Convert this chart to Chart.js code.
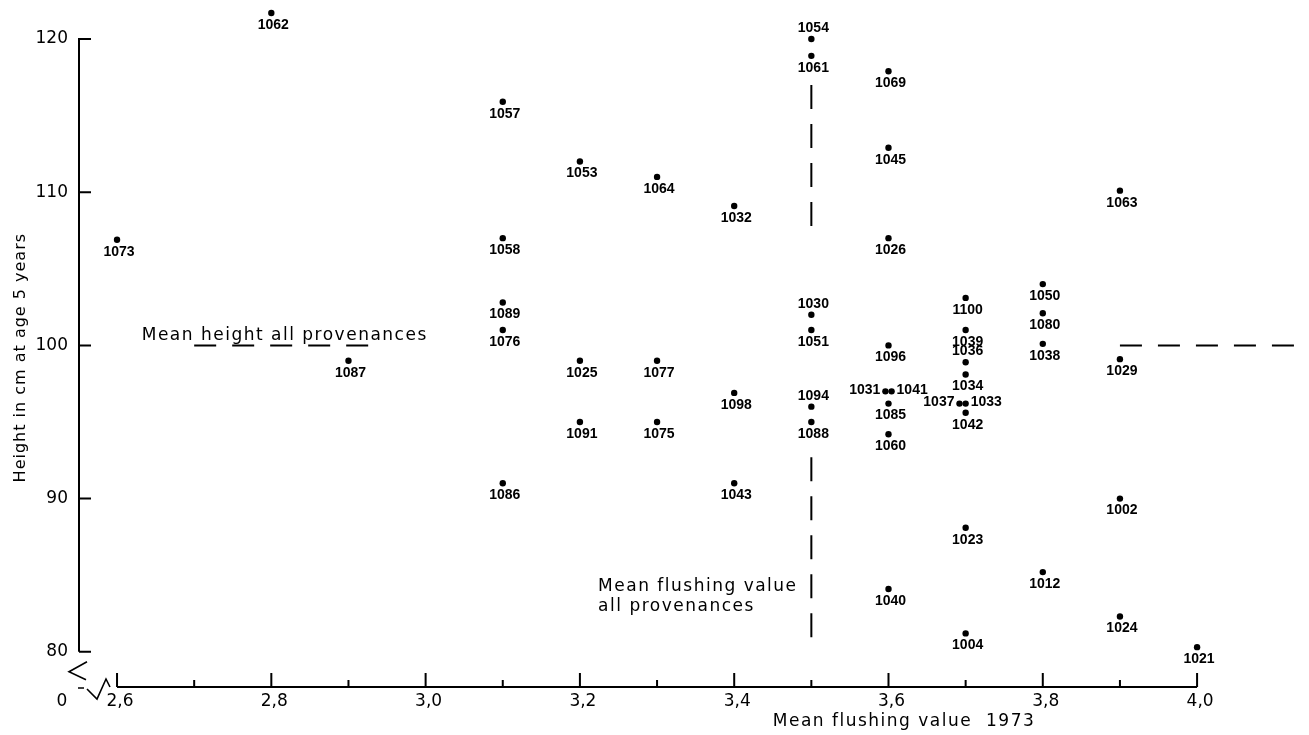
<!DOCTYPE html>
<html>
<head>
<meta charset="utf-8">
<script src="https://cdn.jsdelivr.net/npm/chart.js@4.4.1/dist/chart.umd.min.js"></script>
<style>
html, body { margin: 0; padding: 0; background: #fff; }
#wrap { width: 1309px; height: 735px; }
</style>
</head>
<body>
<div id="wrap"><canvas id="scatter01" width="1309" height="735"></canvas></div>
<script>
// provenance numbers, mean flushing value 1973, height (cm) at age 5
const provenances = [
    '1062', '1073', '1087',
    '1057', '1058', '1089', '1076', '1086',
    '1053', '1025', '1091',
    '1064', '1077', '1075',
    '1032', '1098', '1043',
    '1054', '1061', '1030', '1051', '1094', '1088',
    '1069', '1045', '1026', '1096', '1031', '1041', '1085', '1060', '1040',
    '1100', '1039', '1036', '1034', '1037', '1033', '1042', '1023', '1004',
    '1050', '1080', '1038', '1012',
    '1063', '1029', '1002', '1024',
    '1021',
];
const flushing = [
    2.8, 2.6, 2.9,
    3.1, 3.1, 3.1, 3.1, 3.1,
    3.2, 3.2, 3.2,
    3.3, 3.3, 3.3,
    3.4, 3.4, 3.4,
    3.5, 3.5, 3.5, 3.5, 3.5, 3.5,
    3.6, 3.6, 3.6, 3.6, 3.596, 3.604, 3.6, 3.6, 3.6,
    3.7, 3.7, 3.7, 3.7, 3.692, 3.7, 3.7, 3.7, 3.7,
    3.8, 3.8, 3.8, 3.8,
    3.9, 3.9, 3.9, 3.9,
    4.0,
];
const heights = [
    121.7, 106.9, 99.0,
    115.9, 107.0, 102.8, 101.0, 91.0,
    112.0, 99.0, 95.0,
    111.0, 99.0, 95.0,
    109.1, 96.9, 91.0,
    120.0, 118.9, 102.0, 101.0, 96.0, 95.0,
    117.9, 112.9, 107.0, 100.0, 97.0, 97.0, 96.2, 94.2, 84.1,
    103.1, 101.0, 98.9, 98.1, 96.2, 96.2, 95.6, 88.1, 81.2,
    104.0, 102.1, 100.1, 85.2,
    110.1, 99.1, 90.0, 82.3,
    80.3,
];

const xTicks = [2.6, 2.7, 2.8, 2.9, 3.0, 3.1, 3.2, 3.3, 3.4, 3.5, 3.6, 3.7, 3.8, 3.9, 4.0];
const xTickLabels = ['2,6', '', '2,8', '', '3,0', '', '3,2', '', '3,4', '', '3,6', '', '3,8', '', '4,0'];
const yTicks = [80, 90, 100, 110, 120];
const yTickLabels = ['80', '90', '100', '110', '120'];

const meanFlushing = 3.5;
const meanHeight = 100;
// drawn stretches of the two dashed mean lines
const meanHeightSpans = [[2.70, 2.94], [3.90, 4.136]];
const meanFlushingSpans = [[117.0, 107.4], [92.7, 80.3]];

// label placement (default: under the dot)
const labelAbove = ['1054', '1030', '1094', '1036'];
const labelLeft = ['1031', '1037'];
const labelRight = ['1041', '1033'];

const FONT = 'DejaVu Sans';

const points = provenances.map((p, i) => ({ x: flushing[i], y: heights[i], id: p }));

const datasets = [
    {
        label: 'Provenances',
        data: points,
        backgroundColor: '#000',
        borderWidth: 0,
        pointRadius: 3.2,
    },
];
meanHeightSpans.forEach((span, i) => {
    datasets.push({
        label: `meanHeight${i}`,
        data: [{ x: span[0], y: meanHeight }, { x: span[1], y: meanHeight }],
        showLine: true,
        borderColor: '#000',
        borderWidth: 2,
        borderDash: [22, 16],
        pointRadius: 0,
    });
});
meanFlushingSpans.forEach((span, i) => {
    datasets.push({
        label: `meanFlushing${i}`,
        data: [{ x: meanFlushing, y: span[0] }, { x: meanFlushing, y: span[1] }],
        showLine: true,
        borderColor: '#000',
        borderWidth: 2,
        borderDash: [24, 15],
        pointRadius: 0,
    });
});

// axes drawn by hand: partial lines, inward ticks and the broken origin
const brokenAxes = {
    id: 'brokenAxes',
    afterDraw(chart) {
        const { ctx, chartArea } = chart;
        const { x, y } = chart.scales;
        const axisX = chartArea.left;
        const baseY = chartArea.bottom;
        const y80 = y.getPixelForValue(yTicks[0]);
        const x26 = x.getPixelForValue(xTicks[0]);

        ctx.save();
        ctx.strokeStyle = '#000';
        ctx.fillStyle = '#000';
        ctx.lineWidth = 2;
        ctx.lineCap = 'butt';

        // y axis
        ctx.beginPath();
        ctx.moveTo(axisX, y.getPixelForValue(yTicks[yTicks.length - 1]) - 1);
        ctx.lineTo(axisX, y80);
        yTicks.forEach((v) => {
            const py = y.getPixelForValue(v);
            ctx.moveTo(axisX, py);
            ctx.lineTo(axisX + 12, py);
        });
        ctx.stroke();

        // x axis
        ctx.beginPath();
        ctx.moveTo(x26, baseY);
        ctx.lineTo(x.getPixelForValue(xTicks[xTicks.length - 1]), baseY);
        xTicks.forEach((v, i) => {
            const px = x.getPixelForValue(v);
            ctx.moveTo(px, baseY);
            ctx.lineTo(px, baseY - (xTickLabels[i] ? 14 : 7));
        });
        ctx.stroke();

        // break symbol
        ctx.lineWidth = 1.6;
        ctx.beginPath();
        ctx.moveTo(axisX + 8, y80 + 10);
        ctx.lineTo(axisX - 10, y80 + 20);
        ctx.lineTo(axisX + 7, y80 + 28);
        ctx.moveTo(axisX - 1, baseY + 1);
        ctx.lineTo(axisX + 5, baseY + 1);
        ctx.moveTo(axisX + 8, baseY + 2);
        ctx.lineTo(axisX + 18, baseY + 12);
        ctx.lineTo(axisX + 27, baseY - 8);
        ctx.lineTo(axisX + 31, baseY);
        ctx.stroke();

        // tick labels
        ctx.font = `17px ${FONT}`;
        ctx.textBaseline = 'middle';
        ctx.textAlign = 'right';
        yTicks.forEach((v, i) => {
            ctx.fillText(yTickLabels[i], axisX - 11, y.getPixelForValue(v));
        });
        ctx.textAlign = 'center';
        xTicks.forEach((v, i) => {
            if (xTickLabels[i]) ctx.fillText(xTickLabels[i], x.getPixelForValue(v) + 3, baseY + 15);
        });
        ctx.fillText('0', axisX - 17, baseY + 15);

        // axis titles
        ctx.letterSpacing = '1.5px';
        ctx.textAlign = 'left';
        ctx.fillText('Mean flushing value  1973', x.getPixelForValue(3.45), baseY + 35);
        ctx.save();
        ctx.letterSpacing = '1px';
        ctx.font = `16px ${FONT}`;
        ctx.translate(21, y.getPixelForValue(99.2));
        ctx.rotate(-Math.PI / 2);
        ctx.textAlign = 'center';
        ctx.fillText('Height in cm at age 5 years', 0, 0);
        ctx.restore();

        // annotations of the mean lines
        ctx.fillText('Mean height all provenances', x.getPixelForValue(2.632), y.getPixelForValue(100.65));
        ctx.fillText('Mean flushing value', x.getPixelForValue(3.2236), y.getPixelForValue(84.23));
        ctx.fillText('all provenances', x.getPixelForValue(3.2236), y.getPixelForValue(82.93));
        ctx.restore();
    },
};

// provenance numbers next to each dot
const pointLabels = {
    id: 'pointLabels',
    afterDatasetsDraw(chart) {
        const { ctx } = chart;
        const meta = chart.getDatasetMeta(0);
        ctx.save();
        ctx.fillStyle = '#000';
        ctx.font = `bold 14px 'Liberation Sans'`;
        ctx.textBaseline = 'middle';
        meta.data.forEach((el, i) => {
            const id = provenances[i];
            if (labelLeft.includes(id)) {
                ctx.textAlign = 'right';
                ctx.fillText(id, el.x - 5, el.y - 1);
            } else if (labelRight.includes(id)) {
                ctx.textAlign = 'left';
                ctx.fillText(id, el.x + 5, el.y - 1);
            } else if (labelAbove.includes(id)) {
                ctx.textAlign = 'center';
                ctx.fillText(id, el.x + 2, el.y - 11);
            } else {
                ctx.textAlign = 'center';
                ctx.fillText(id, el.x + 2, el.y + 12);
            }
        });
        ctx.restore();
    },
};

const ctx = document.getElementById('scatter01').getContext('2d');
const chart = new Chart(ctx, {
    type: 'scatter',
    data: { datasets },
    options: {
        responsive: false,
        animation: false,
        events: [],
        layout: {
            padding: { left: 79, right: 7, top: 5, bottom: 48 },
        },
        plugins: {
            legend: { display: false },
            tooltip: { enabled: false },
        },
        scales: {
            x: {
                type: 'linear',
                display: false,
                min: 2.5507,
                max: 4.136,
            },
            y: {
                type: 'linear',
                display: false,
                min: 77.7,
                max: 122.22,
            },
        },
    },
    plugins: [brokenAxes, pointLabels],
});
</script>
</body>
</html>
